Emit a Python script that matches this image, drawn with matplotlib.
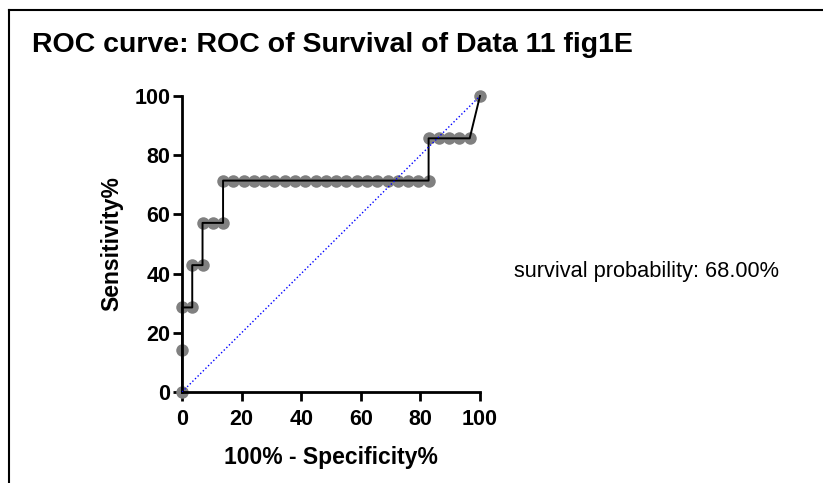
import matplotlib.pyplot as plt
from matplotlib.lines import Line2D

plt.rcParams['font.family'] = ['Liberation Sans', 'DejaVu Sans']

# ROC points (100% - specificity, sensitivity)
fpr = [0, 0, 0, 3.45, 3.45, 6.90, 6.90, 10.34, 13.79, 13.79,
       17.24, 20.69, 24.14, 27.59, 31.03, 34.48, 37.93, 41.38, 44.83, 48.28,
       51.72, 55.17, 58.62, 62.07, 65.52, 68.97, 72.41, 75.86, 79.31, 82.76,
       82.76, 86.21, 89.66, 93.10, 96.55, 100]
tpr = [0, 14.29, 28.57, 28.57, 42.86, 42.86, 57.14, 57.14, 57.14, 71.43,
       71.43, 71.43, 71.43, 71.43, 71.43, 71.43, 71.43, 71.43, 71.43, 71.43,
       71.43, 71.43, 71.43, 71.43, 71.43, 71.43, 71.43, 71.43, 71.43, 71.43,
       85.71, 85.71, 85.71, 85.71, 85.71, 100]
ref_x = [0, 100]
ref_y = [0, 100]
ticks = [0, 20, 40, 60, 80, 100]

fig = plt.figure(figsize=(8.23, 4.83), dpi=100)
ax = fig.add_axes([0.2211, 0.1884, 0.3621, 0.6128])

ax.plot(fpr, tpr, 'o', color='#808080', markersize=9, markeredgewidth=0, zorder=2, clip_on=False)
ax.plot(fpr, tpr, '-', color='black', linewidth=1.4, zorder=3, clip_on=False)
ax.plot(ref_x, ref_y, color='blue', linestyle=':', linewidth=1.0, zorder=4)

ax.set_xlim(0, 100)
ax.set_ylim(0, 100)
ax.set_xticks(ticks)
ax.set_yticks(ticks)
for s in ['top', 'right']:
    ax.spines[s].set_visible(False)
for s in ['left', 'bottom']:
    ax.spines[s].set_linewidth(2)
ax.tick_params(width=2, length=6.5, labelsize=15.5)
ax.tick_params(axis='x', pad=6)
ax.tick_params(axis='y', pad=2)
for lab in ax.get_xticklabels() + ax.get_yticklabels():
    lab.set_fontweight('bold')

ax.set_xlabel('100% - Specificity%', fontsize=16.5, fontweight='bold', va='center')
ax.set_ylabel('Sensitivity%', fontsize=16.5, fontweight='bold', va='center')
ax.xaxis.set_label_coords(0.5, (392 - 458) / 296)
ax.yaxis.set_label_coords((112 - 182) / 298, 0.5)

fig.text(32 / 823, 1 - 45 / 483, 'ROC curve: ROC of Survival of Data 11 fig1E',
         fontsize=20.5, fontweight='bold', va='center', ha='left')
fig.text(514 / 823, 1 - 272 / 483, 'survival probability: 68.00%',
         fontsize=15.7, va='center', ha='left')

# page frame (top and left edges)
fig.add_artist(Line2D([9 / 823, 9 / 823], [0, 1 - 10 / 483], color='black', linewidth=1.5,
                      transform=fig.transFigure))
fig.add_artist(Line2D([9 / 823, 1], [1 - 10 / 483, 1 - 10 / 483], color='black', linewidth=1.5,
                      transform=fig.transFigure))

fig.savefig('out.png', dpi=100)
